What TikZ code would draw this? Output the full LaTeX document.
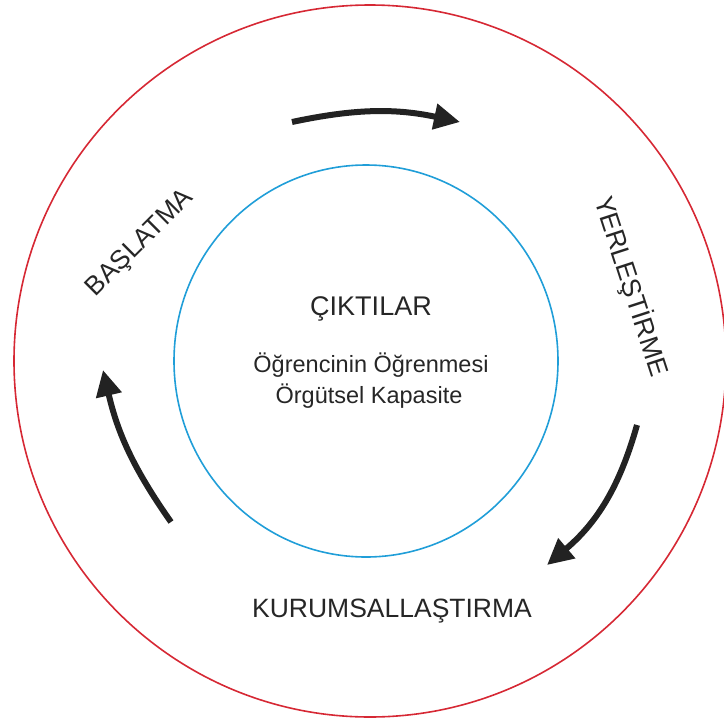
\documentclass[tikz,border=0pt]{standalone}
\usepackage{fontspec}
\setmainfont{Liberation Sans}
\usetikzlibrary{arrows.meta}

\definecolor{ringred}{RGB}{214,40,52}
\definecolor{ringblue}{RGB}{32,158,216}
\definecolor{arrowgray}{RGB}{34,34,34}
\definecolor{textgray}{RGB}{38,38,38}

\begin{document}
\begin{tikzpicture}
[x=1pt,y=1pt,>={Triangle[length=26pt,width=25pt]},
  ring/.style={line width=1.6pt},
  stage/.style={text=textgray,font=\fontsize{26.5}{30}\selectfont,inner sep=0pt,anchor=base},
  outcome/.style={text=textgray,font=\fontsize{23.5}{28}\selectfont,inner sep=0pt,anchor=base},
  cycle/.style={->,line width=6pt,draw=arrowgray}]
\useasboundingbox (0,0) rectangle (724,-724);
%% circles
\draw[ring,ringred] (370,-361) circle (356pt);
\draw[ring,ringblue] (366,-361) ellipse (192pt and 196pt);
%% centre texts
\node[stage,font=\fontsize{27}{30}\selectfont] (ciktilar) at (371,-315) {ÇIKTILAR};
\node[outcome] (ogrenme) at (371,-372) {Öğrencinin Öğrenmesi};
\node[outcome] (kapasite) at (369,-403) {Örgütsel Kapasite};
%% stages
\node[stage,rotate=45] (baslatma) at (145,-248) {BAŞLATMA};
\node[stage,rotate=-72] (yerlestirme) at (623,-289) {YERLEŞTİRME};
\node[stage] (kurumsal) at (392,-617) {KURUMSALLAŞTIRMA};
%% arrow ends
\coordinate (a1) at (292,-122);
\coordinate (b1) at (460,-122);
\coordinate (a2) at (637,-425);
\coordinate (b2) at (547,-565);
\coordinate (a3) at (171,-522);
\coordinate (b3) at (103,-370);
%% cycle arrows
\draw[cycle] (a1) to[bend left=12] (b1);
\draw[cycle] (a2) to[bend left=17] (b2);
\draw[cycle] (a3) to[bend left=11] (b3);
\end{tikzpicture}
\end{document}
